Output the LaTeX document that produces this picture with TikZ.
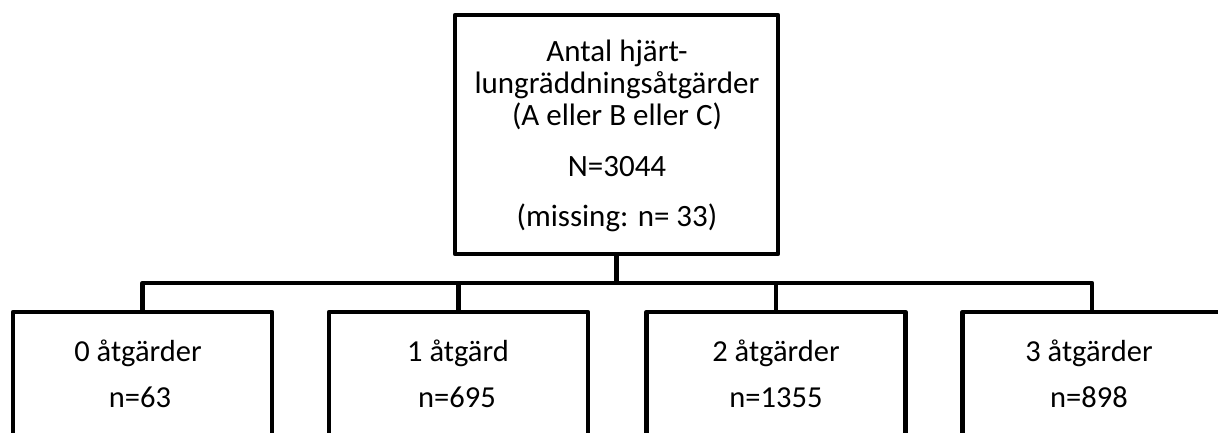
\documentclass[tikz,border=0pt]{standalone}
\usepackage{fontspec}
\setmainfont{Carlito}
\begin{document}
\begin{tikzpicture}[x=1pt,y=1pt,
  boxline/.style={draw=black,line width=4.5pt,line join=round},
  topbox/.style={boxline,rectangle,minimum width=323pt,minimum height=239pt,inner sep=0pt},
  lowbox/.style={boxline,rectangle,minimum width=259pt,minimum height=160pt,inner sep=0pt},
  lbl/.style={anchor=base,inner sep=0pt,font=\fontsize{31}{37}\selectfont},
  sublbl/.style={lbl,font=\fontsize{30.5}{36}\selectfont},
  wire/.style={draw=black,line width=4.5pt,line join=round}]
\useasboundingbox (0,0) rectangle (1218,-432);
\clip (0,0) rectangle (1218,-432);

% parent box and its text
\node[topbox] (top) at (616.5,-134.5) {};
\node[lbl] (h1) at (617,-61) {Antal hjärt-};
\node[lbl] (h2) at (617,-93) {lungräddningsåtgärder};
\node[lbl] (h3) at (617,-125) {(A eller B eller C)};
\node[lbl] (h4) at (617,-176) {N=3044};
\node[lbl] (h5) at (617,-226) {(missing: n= 33)};

% child boxes (running past the lower edge)
\node[lowbox] (b0) at (142.5,-392) {};
\node[lowbox] (b1) at (458.5,-392) {};
\node[lowbox] (b2) at (776,-392) {};
\node[lowbox] (b3) at (1092,-392) {};

\node[sublbl] (t0) at (138,-361) {0 åtgärder};
\node[sublbl] (n0) at (140,-407) {n=63};
\node[sublbl] (t1) at (458,-361) {1 åtgärd};
\node[sublbl] (n1) at (457,-407) {n=695};
\node[sublbl] (t2) at (776,-361) {2 åtgärder};
\node[sublbl] (n2) at (776,-407) {n=1355};
\node[sublbl] (t3) at (1089,-361) {3 åtgärder};
\node[sublbl] (n3) at (1089,-407) {n=898};

% tree connectors
\coordinate (bus) at (616.5,-283);
\draw[wire] (top.south) -- (bus);
\draw[wire] (b0.north) -- (b0.north |- bus) -- (b3.north |- bus) -- (b3.north);
\draw[wire] (b1.north) -- (b1.north |- bus);
\draw[wire] (b2.north) -- (b2.north |- bus);
\end{tikzpicture}
\end{document}
